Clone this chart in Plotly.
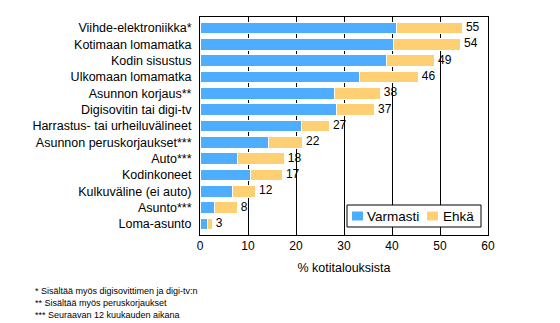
import plotly.graph_objects as go

categories = ["Viihde-elektroniikka*", "Kotimaan lomamatka", "Kodin sisustus",
              "Ulkomaan lomamatka", "Asunnon korjaus**", "Digisovitin tai digi-tv",
              "Harrastus- tai urheiluvälineet", "Asunnon peruskorjaukset***", "Auto***",
              "Kodinkoneet", "Kulkuväline (ei auto)", "Asunto***", "Loma-asunto"]
varmasti = [40.9, 40.3, 38.9, 33.3, 28.0, 28.4, 21.1, 14.3, 7.9, 10.5, 6.8, 3.0, 1.6]
ehka = [13.8, 14.0, 10.0, 12.2, 9.6, 8.0, 5.9, 7.1, 9.7, 6.7, 4.8, 4.8, 1.0]
totals = [55, 54, 49, 46, 38, 37, 27, 22, 18, 17, 12, 8, 3]
x_ticks = [0, 10, 20, 30, 40, 50, 60]
series_names = ["Varmasti", "Ehkä"]
footnotes = ["* Sisältää myös digisovittimen ja digi-tv:n",
             "** Sisältää myös peruskorjaukset",
             "*** Seuraavan 12 kuukauden aikana"]

BLUE = "#4FADFF"
ORANGE = "#FFD073"
FONT = "Liberation Sans, Arial, sans-serif"

# plot area in pixels
L, R, T, B = 200, 488, 17, 235
W, H = R - L, B - T


def px(xp):
    return (xp - L) / W


def py(yp):
    return (B - yp) / H


fig = go.Figure()
fig.add_trace(go.Bar(y=categories, x=varmasti, orientation="h", name=series_names[0],
                     marker=dict(color=BLUE, line=dict(color="white", width=1)),
                     showlegend=False))
fig.add_trace(go.Bar(y=categories, x=ehka, orientation="h", name=series_names[1],
                     marker=dict(color=ORANGE, line=dict(color="white", width=1)),
                     showlegend=False))
label_x = [v + e for v, e in zip(varmasti, ehka)]
fig.add_trace(go.Scatter(y=categories, x=label_x, mode="text",
                         text=[" " + str(t) for t in totals], textposition="middle right",
                         textfont=dict(family=FONT, size=12, color="black"),
                         showlegend=False, cliponaxis=False, hoverinfo="skip"))

shapes = []
annotations = []
# legend box (drawn manually to match compact original legend)
shapes.append(dict(type="rect", xref="paper", yref="paper",
                   x0=px(347), x1=px(481), y0=py(227), y1=py(205),
                   line=dict(color="black", width=1), fillcolor="white", layer="above"))
for (sx, tx), col, name in zip([(352, 365), (427, 441)], [BLUE, ORANGE], series_names):
    shapes.append(dict(type="rect", xref="paper", yref="paper",
                       x0=px(sx), x1=px(sx + 11), y0=py(220.5), y1=py(211.5),
                       line=dict(width=0), fillcolor=col, layer="above"))
    annotations.append(dict(text=name, xref="paper", yref="paper", x=px(tx), y=py(216),
                            xanchor="left", yanchor="middle", showarrow=False,
                            font=dict(family=FONT, size=13.5, color="black")))

for i, t in enumerate(footnotes):
    annotations.append(dict(text=t, xref="paper", yref="paper",
                            x=px(33), y=py(291 + 12 * i),
                            xanchor="left", yanchor="middle", showarrow=False,
                            font=dict(family=FONT, size=9, color="black")))

fig.update_layout(
    width=560, height=323,
    margin=dict(l=L, r=560 - R, t=T, b=323 - B),
    barmode="stack", bargap=0.28,
    plot_bgcolor="white", paper_bgcolor="white",
    font=dict(family=FONT, size=12, color="black"),
    xaxis=dict(range=[0, 60], tickvals=x_ticks, showgrid=True, gridcolor="black",
               gridwidth=1, zeroline=False, showline=True, linecolor="black",
               linewidth=1, mirror=True, ticks="",
               title=dict(text="% kotitalouksista", font=dict(size=12.5), standoff=10),
               tickfont=dict(size=12)),
    yaxis=dict(autorange="reversed", showgrid=False, zeroline=False, showline=True,
               linecolor="black", linewidth=1, mirror=True, ticks="",
               ticklabelstandoff=5, tickfont=dict(size=12.5)),
    showlegend=False,
    shapes=shapes,
    annotations=annotations,
)
fig.write_html("out.html")
